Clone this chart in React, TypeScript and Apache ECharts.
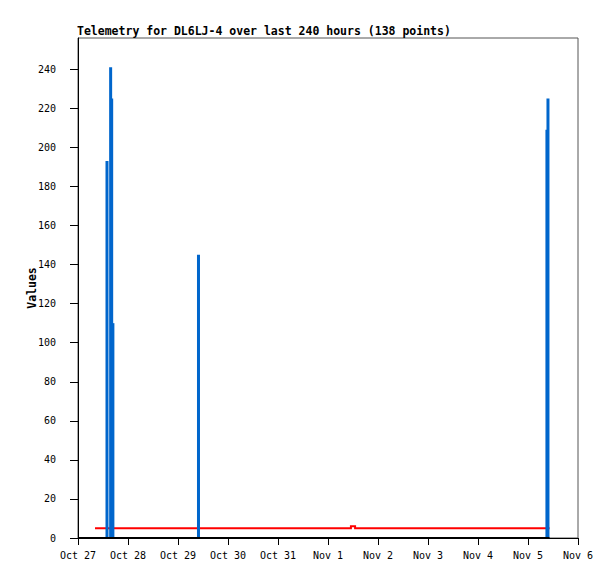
import React, { useEffect, useRef } from 'react';
import * as echarts from 'echarts';

const DAY = 86400000;
const t = (s: string) => Date.parse(s + ':00Z');

const titleText = 'Telemetry for DL6LJ-4 over last 240 hours (138 points)';
const yAxisName = 'Values';
const axisStart = '2023-10-27T00:00';
const axisEnd = '2023-11-06T00:00';
const yMin = 0;
const yMax = 256;
const yStep = 20;
const monthNames = ['Jan', 'Feb', 'Mar', 'Apr', 'May', 'Jun', 'Jul', 'Aug', 'Sep', 'Oct', 'Nov', 'Dec'];

// blue spikes
const spikeTimes = [
  '2023-10-27T13:55',
  '2023-10-27T15:40',
  '2023-10-27T16:10',
  '2023-10-27T16:45',
  '2023-10-29T09:50',
  '2023-11-05T09:05',
  '2023-11-05T09:35',
];
const spikeValues = [193, 241, 225, 110, 145, 209, 225];

// red series
const redTimes = [
  '2023-10-27T08:10',
  '2023-11-01T11:00',
  '2023-11-01T11:00',
  '2023-11-01T13:00',
  '2023-11-01T13:00',
  '2023-11-05T10:20',
];
const redValues = [5, 5, 6, 6, 5, 5];

// black series
const blackTimes = ['2023-10-27T00:00', '2023-11-05T10:20'];
const blackValues = [0, 0];

const mono = 'DejaVu Sans Mono, monospace';

export default function App() {
  const ref = useRef<HTMLDivElement>(null);
  useEffect(() => {
    if (!ref.current) return;
    const chart = echarts.init(ref.current, null, { renderer: 'svg' });
    chart.setOption({
      animation: false,
      backgroundColor: '#ffffff',
      title: {
        text: titleText,
        left: 77,
        top: 25,
        padding: 0,
        textStyle: { fontFamily: mono, fontSize: 11.5, fontWeight: 'bold', color: '#000' },
      },
      grid: {
        left: 78,
        right: 37,
        top: 38,
        bottom: 41,
        show: true,
        borderColor: '#555',
        borderWidth: 1,
        backgroundColor: 'transparent',
      },
      xAxis: {
        type: 'value',
        min: t(axisStart),
        max: t(axisEnd),
        interval: DAY,
        splitLine: { show: false },
        axisLine: { show: true, lineStyle: { color: '#000', width: 1 } },
        axisTick: { show: true, length: 7, lineStyle: { color: '#000' } },
        axisLabel: {
          margin: 12,
          fontFamily: mono,
          fontSize: 10,
          color: '#000',
          formatter: (v: number) => {
            const d = new Date(v);
            return monthNames[d.getUTCMonth()] + ' ' + d.getUTCDate();
          },
        },
      },
      yAxis: {
        type: 'value',
        min: yMin,
        max: yMax,
        interval: yStep,
        name: yAxisName,
        nameLocation: 'middle',
        nameGap: 40,
        nameMoveOverlap: false,
        nameRotate: 90,
        nameTextStyle: { fontFamily: mono, fontSize: 11.5, fontWeight: 'bold', color: '#000' },
        splitLine: { show: false },
        axisLine: { show: true, lineStyle: { color: '#000', width: 1 } },
        axisTick: { show: true, length: 8, lineStyle: { color: '#000' } },
        axisLabel: {
          margin: 22,
          fontFamily: mono,
          fontSize: 10,
          color: '#000',
          showMaxLabel: false,
          formatter: (v: number) => (v > 240 ? '' : String(v)),
        },
      },
      series: [
        {
          type: 'line',
          data: redTimes.map((s, i) => [t(s), redValues[i]]),
          showSymbol: false,
          symbol: 'none',
          lineStyle: { color: '#ff0000', width: 2, join: 'miter', cap: 'butt' },
          z: 2,
        },
        {
          type: 'bar',
          data: spikeTimes.map((s, i) => [t(s), spikeValues[i]]),
          barWidth: 3,
          itemStyle: { color: '#0066cc' },
          z: 3,
        },
        {
          type: 'line',
          data: blackTimes.map((s, i) => [t(s), blackValues[i]]),
          showSymbol: false,
          symbol: 'none',
          lineStyle: { color: '#000000', width: 2 },
          z: 4,
        },
      ],
    });
    return () => chart.dispose();
  }, []);
  return (
    <div
      ref={ref}
      style={{ position: 'fixed', left: 0, top: 0, width: 615, height: 579, background: '#fff' }}
    />
  );
}
